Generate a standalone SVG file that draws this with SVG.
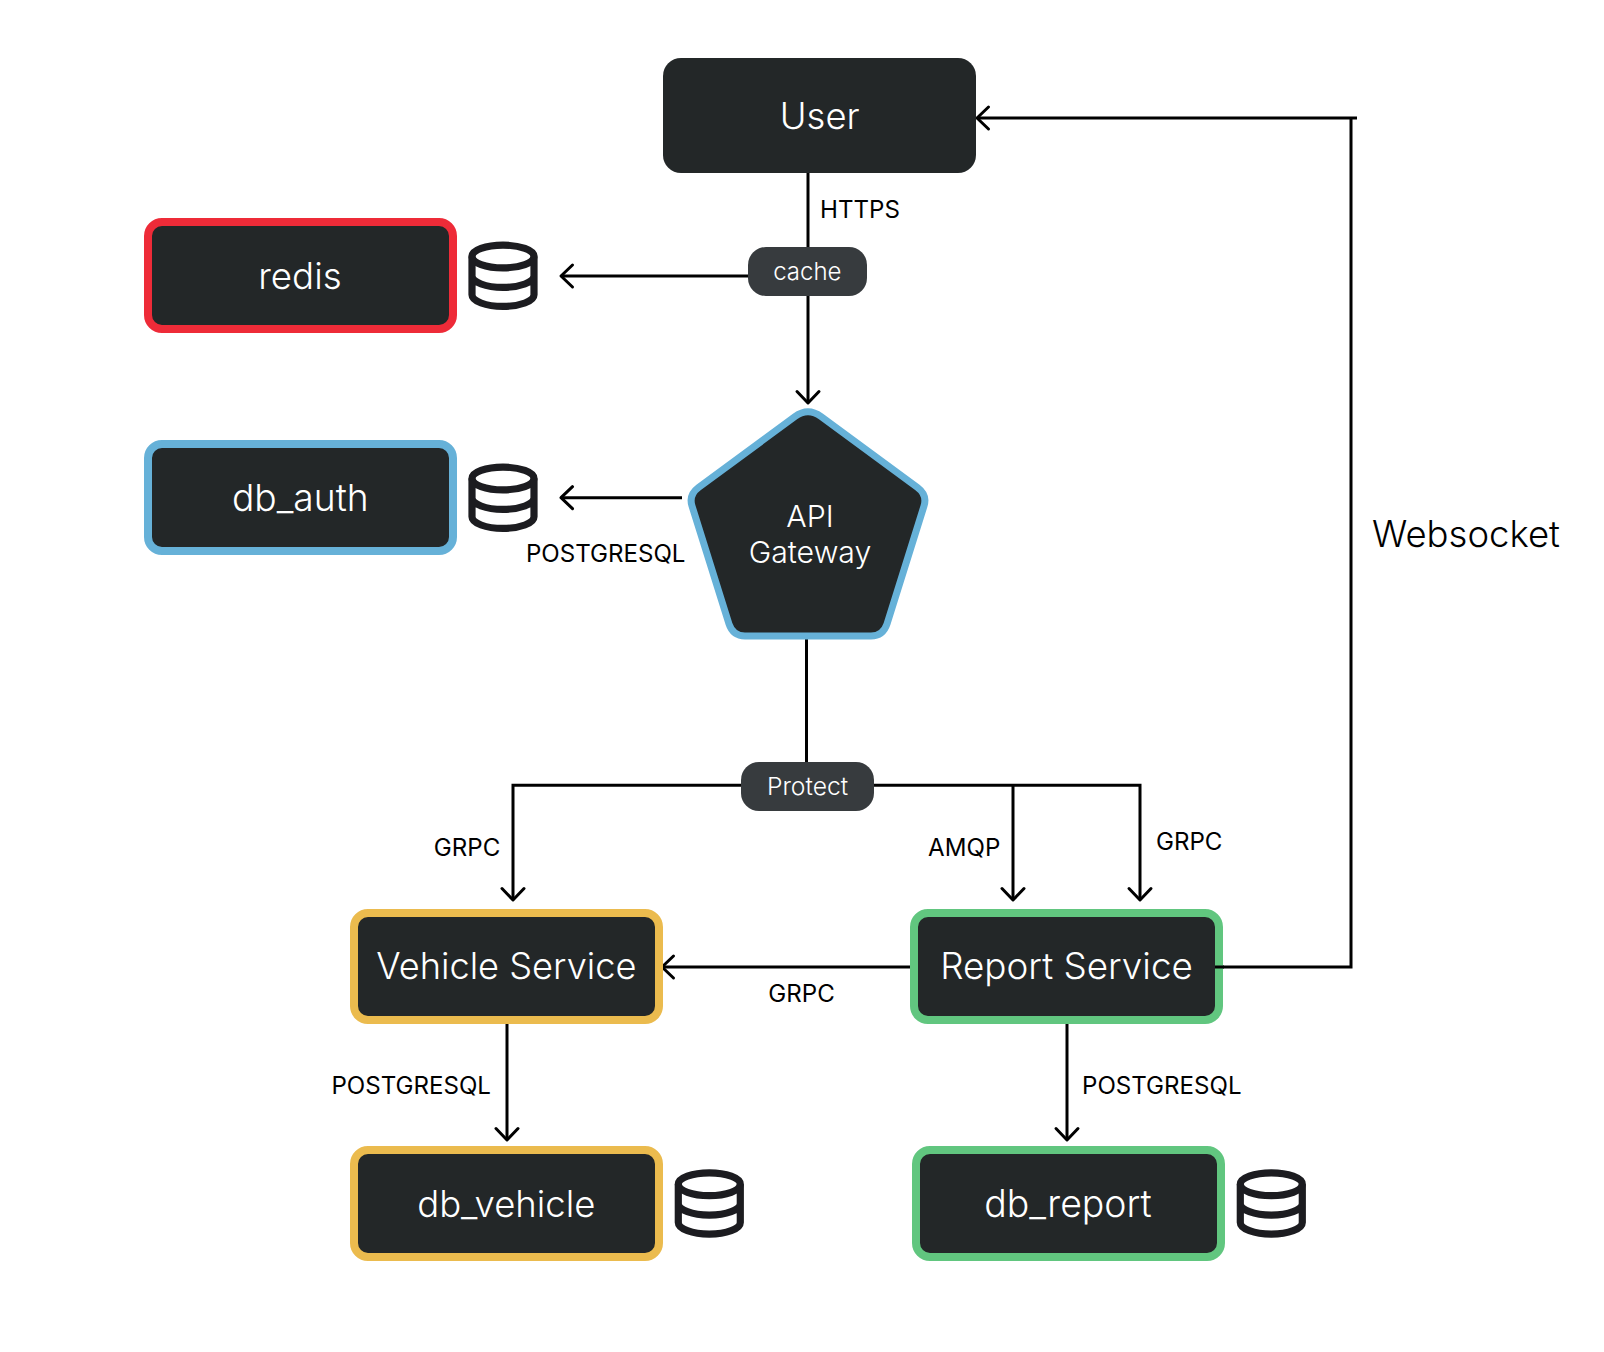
<svg xmlns="http://www.w3.org/2000/svg" xmlns:xlink="http://www.w3.org/1999/xlink" width="1604" height="1352" viewBox="0 0 1604 1352">
<style>
text{font-family:"Inter","Liberation Sans",sans-serif}
.box{fill:#232728;stroke-width:8}
.nm{fill:#fff;font-size:36.700px;font-weight:300;text-anchor:middle}
.pl{fill:#fff;font-size:24.500px;font-weight:300;text-anchor:middle}
.lb{fill:#000;font-size:24.100px;font-weight:400}
.c{fill:none;stroke:#000;stroke-width:3}
.a{marker-end:url(#arrow)}
.dbi{fill:none;stroke:#1c1c20;stroke-width:7.2;stroke-linecap:butt}
</style>
<defs>
<marker id="arrow" markerUnits="userSpaceOnUse" markerWidth="30" markerHeight="30" refX="20" refY="15" orient="auto">
<path d="M8.500 4L20 15L8.500 26" fill="none" stroke="#000" stroke-width="3" stroke-linecap="round" stroke-linejoin="round"/>
</marker>
<g id="dbicon">
<ellipse cx="35" cy="15.200" rx="31" ry="11.400" class="dbi"/>
<path class="dbi" d="M4 15.200V53.500A31 11.600 0 0 0 66 53.500V15.200M4 34.500A31 11.600 0 0 0 66 34.500"/>
</g>
</defs>
<rect width="1604" height="1352" fill="#fff"/>
<g id="connectors">
<path class="c" d="M808 173V247"/>
<path class="c a" d="M808 296V403"/>
<path class="c a" d="M748 276H561"/>
<path class="c a" d="M682 497.700H561"/>
<path class="c" d="M806.500 639V762"/>
<path class="c a" d="M741 785.300H513V900"/>
<path class="c a" d="M873 785.300H1140V900"/>
<path class="c a" d="M1013 785.300V900"/>
<path class="c a" d="M910 967H662"/>
<path class="c" d="M1215 967H1351V118"/>
<path class="c a" d="M1357 118H977"/>
<path class="c a" d="M507 1024V1140"/>
<path class="c a" d="M1067 1024V1140"/>
</g>
<g id="user"><rect x="663" y="58" width="313" height="115" rx="18" fill="#232728"/><text class="nm" style="font-size:36.400px" x="819.700" y="128.700">User</text></g>
<g id="redis"><rect class="box" x="148" y="222" width="305" height="107" rx="14" stroke="#ee2b38"/><text class="nm" x="300" y="288.800">redis</text></g>
<g id="redis-icon"><use href="#dbicon" x="468" y="241.300"/></g>
<g id="db_auth"><rect class="box" x="148" y="444" width="305" height="107" rx="14" stroke="#66b1d8"/><text class="nm" style="font-size:37.200px" x="300.300" y="511">db_auth</text></g>
<g id="db_auth-icon"><use href="#dbicon" x="468" y="463.300"/></g>
<g id="cache"><rect x="748" y="247" width="119" height="49" rx="18" fill="#373b3e"/><text class="pl" style="font-size:24px" x="807.300" y="280.300">cache</text></g>
<g id="api-gateway"><path d="M795 416.500Q808 407 821 416.500L917.500 487.500Q927.500 495 924 506L887 624Q883 636 871 636H745Q733 636 729 624L692 506Q688.500 495 698.500 487.500Z" fill="#232728" stroke="#66b1d8" stroke-width="7"/><text class="pl" style="font-size:30.300px" x="810" y="527">API</text><text class="pl" style="font-size:30.300px" x="810" y="563">Gateway</text></g>
<g id="protect"><rect x="741" y="762" width="133" height="49" rx="18" fill="#373b3e"/><text class="pl" style="font-size:24.700px" x="807.500" y="795">Protect</text></g>
<g id="vehicle-service"><rect class="box" x="354" y="913" width="305" height="107" rx="14" stroke="#ebbb4e"/><text class="nm" style="font-size:36.200px" x="506.300" y="979.300">Vehicle Service</text></g>
<g id="report-service"><rect class="box" x="914" y="913" width="305" height="107" rx="14" stroke="#61c67f"/><text class="nm" style="font-size:36.800px" x="1066.500" y="979.300">Report Service</text></g>
<path class="c" d="M1215 967H1224"/>
<g id="db_vehicle"><rect class="box" x="354" y="1150" width="305" height="107" rx="14" stroke="#ebbb4e"/><text class="nm" style="font-size:36.500px" x="506.300" y="1216.600">db_vehicle</text></g>
<g id="db_vehicle-icon"><use href="#dbicon" x="674.300" y="1169"/></g>
<g id="db_report"><rect class="box" x="916" y="1150" width="305" height="107" rx="14" stroke="#61c67f"/><text class="nm" style="font-size:37.400px" x="1068" y="1216.600">db_report</text></g>
<g id="db_report-icon"><use href="#dbicon" x="1236.300" y="1169"/></g>
<g id="labels">
<text class="lb" x="820" y="218">HTTPS</text>
<text class="lb" x="685.500" y="562" text-anchor="end">POSTGRESQL</text>
<text class="lb" x="500.300" y="856" text-anchor="end">GRPC</text>
<text class="lb" x="1000.300" y="856" text-anchor="end">AMQP</text>
<text class="lb" x="1156" y="850">GRPC</text>
<text class="lb" x="768.300" y="1002">GRPC</text>
<text class="lb" x="491" y="1094" text-anchor="end">POSTGRESQL</text>
<text class="lb" x="1082" y="1094">POSTGRESQL</text>
<text x="1372" y="546.700" style="font-size:36.500px;font-weight:300;fill:#000">Websocket</text>
</g>
</svg>
